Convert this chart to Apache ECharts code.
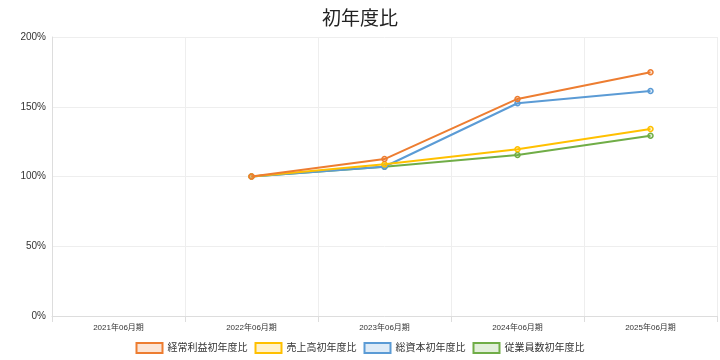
<!DOCTYPE html>
<html><head><meta charset="utf-8">
<script src="https://cdn.jsdelivr.net/npm/echarts@6/dist/echarts.min.js"></script>
<style>html,body{margin:0;padding:0;background:#fff}#c{width:720px;height:360px}</style>
</head><body><div id="c"></div>
<script>
const categories = ['2021年06月期','2022年06月期','2023年06月期','2024年06月期','2025年06月期'];
const yTicks = [0, 50, 100, 150, 200];
const keijoRieki = [null, 100, 112.5, 155.6, 174.7];
const uriage = [null, 100, 108.7, 119.5, 134.0];
const soShihon = [null, 100, 107.0, 152.5, 161.3];
const jugyoin = [null, 100, 107.0, 115.4, 129.2];
const seriesNames = ['経常利益初年度比','売上高初年度比','総資本初年度比','従業員数初年度比'];
const colors = ['#ED7D31','#FFC000','#5B9BD5','#70AD47'];
const fills = ['rgba(237,125,49,0.2)','rgba(255,192,0,0.2)','rgba(91,155,213,0.2)','rgba(112,173,71,0.2)'];
const dataSets = [keijoRieki, uriage, soShihon, jugyoin];
const font = 'Arial, "Liberation Sans", "Noto Sans CJK JP", sans-serif';
const chart = echarts.init(document.getElementById('c'));
chart.setOption({
  animation: false,
  title: {text: '初年度比', left: 'center', top: 5, textStyle: {fontSize: 19, fontWeight: 'normal', color: '#222', fontFamily: font}},
  grid: {left: 52, right: 3, top: 37, bottom: 44},
  legend: {
    top: 337, left: 'center', itemWidth: 26, itemHeight: 10, itemGap: 7, icon: 'rect',
    textStyle: {fontSize: 10, color: '#333', fontFamily: font},
    itemStyle: {borderWidth: 2},
    data: seriesNames
  },
  xAxis: {
    type: 'category', data: categories, boundaryGap: true,
    axisLine: {lineStyle: {color: '#ddd'}},
    axisTick: {show: true, length: 6, lineStyle: {color: '#ddd'}},
    splitLine: {show: true, lineStyle: {color: '#eee'}},
    axisLabel: {fontSize: 8, color: '#333', fontFamily: font, margin: 8}
  },
  yAxis: {
    type: 'value', min: yTicks[0], max: yTicks[yTicks.length-1], interval: 50,
    axisLine: {show: true, lineStyle: {color: '#ddd'}},
    axisTick: {show: false},
    splitLine: {lineStyle: {color: '#eee'}},
    axisLabel: {fontSize: 10, color: '#333', fontFamily: font, formatter: v => v + '%', margin: 6}
  },
  series: dataSets.map((d, i) => ({
    name: seriesNames[i], type: 'line', data: d,
    symbol: 'circle', symbolSize: 5, showSymbol: true,
    lineStyle: {color: colors[i], width: 2},
    itemStyle: {color: fills[i], borderColor: colors[i], borderWidth: 1.5},
    z: 10 - i
  }))
});
</script></body></html>
